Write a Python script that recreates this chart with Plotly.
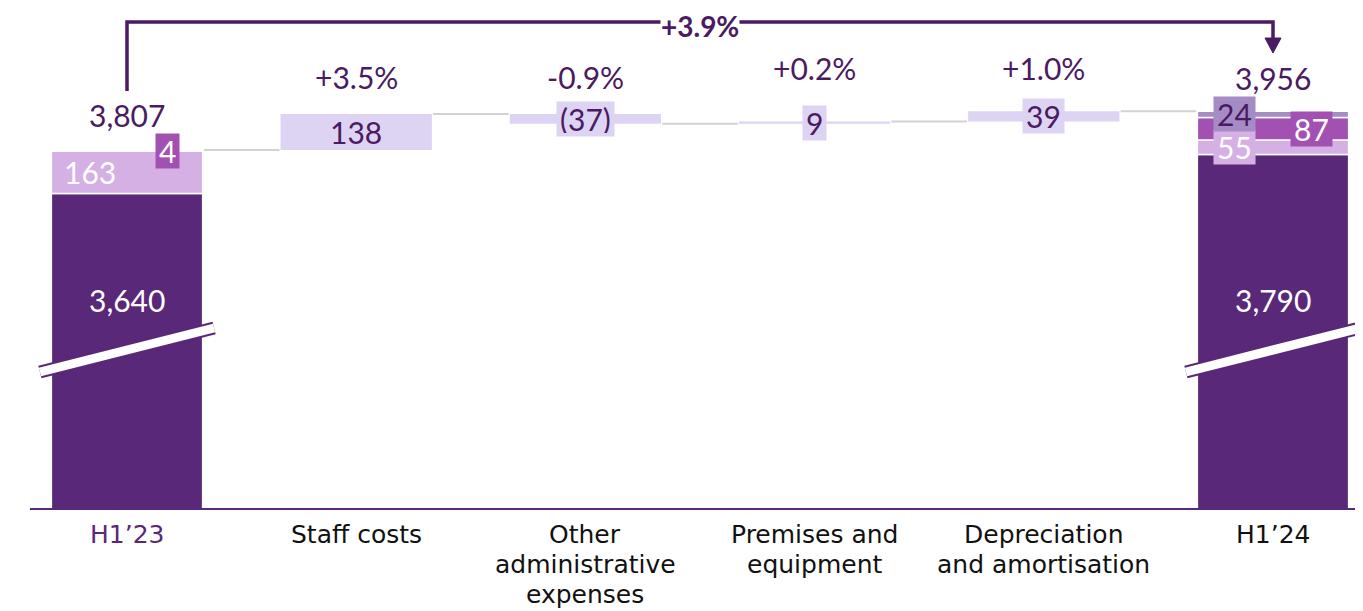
import plotly.graph_objects as go

# data
categories = ["H1’23", "Staff costs", "Other<br>administrative<br>expenses",
              "Premises and<br>equipment", "Depreciation<br>and amortisation", "H1’24"]
start_parts = [3640, 163, 4]
end_parts = [3790, 55, 87, 24]
changes = [138, -37, 9, 39]
change_labels = ["138", "(37)", "9", "39"]
change_pcts = ["+3.5%", "-0.9%", "+0.2%", "+1.0%"]
start_total = "3,807"
end_total = "3,956"
total_pct = "+3.9%"

DARK = "#5A2878"
LIGHT = "#D5B0E5"
MID = "#A350B3"
LAV = "#DDD3F2"
GREY = "#A68CC4"
TXT = "#4A1A62"
FONT = "Lato"
TICK_FONT = "DejaVu Sans"

start_colors = [DARK, LIGHT, MID]
end_colors = [DARK, LIGHT, MID, GREY]

# page has an 8px body margin, so the figure is drawn 8px smaller
OFF = 8
PLOT_BOTTOM = 508  # page px of x axis
PLOT_LEFT = 30


def py(p):
    # page pixel row -> paper y
    return (PLOT_BOTTOM - p) / (PLOT_BOTTOM - OFF)


W = 0.66
fig = go.Figure()

# stacked opening bar
base = 0
for v, c in zip(start_parts, start_colors):
    fig.add_trace(go.Bar(x=[0], y=[v], base=[base], width=W, marker_color=c,
                         marker_line_color="white", marker_line_width=1.5))
    base += v
start_sum = base

# floating change bars
levels = [start_sum]
for i, v in enumerate(changes):
    fig.add_trace(go.Bar(x=[i + 1], y=[v], base=[levels[-1]], width=W,
                         marker_color=LAV, marker_line_width=0))
    levels.append(levels[-1] + v)

# stacked closing bar
base = 0
end_bases = []
for v, c in zip(end_parts, end_colors):
    fig.add_trace(go.Bar(x=[5], y=[v], base=[base], width=W, marker_color=c,
                         marker_line_color="white", marker_line_width=1.5))
    end_bases.append(base)
    base += v
end_sum = base

shapes = []
# connectors
for i, lv in enumerate(levels):
    shapes.append(dict(type="line", xref="x", yref="y", x0=i + W / 2 + 0.005, x1=i + 1 - W / 2 - 0.005,
                       y0=lv, y1=lv, line=dict(color="#D2D2D2", width=2), layer="below"))

# axis breaks
for xc in [0, 5]:
    for col, wd in [(DARK, 13), ("white", 9)]:
        shapes.append(dict(type="line", xref="x", yref="paper", x0=xc - 0.38, x1=xc + 0.38,
                           y0=py(372), y1=py(328), line=dict(color=col, width=wd)))

# bracket
shapes.append(dict(type="path", xref="x", yref="paper",
                   path=f"M 0,{py(91)} L 0,{py(22)} L 5,{py(22)} L 5,{py(40)}",
                   line=dict(color=TXT, width=3.5)))
shapes.append(dict(type="path", xref="x", yref="paper",
                   path=f"M 4.965,{py(38)} L 5.035,{py(38)} L 5,{py(53)} Z",
                   fillcolor=TXT, line=dict(color=TXT, width=1)))

ann = []
fs = 30


def label(x, y, text, color, yref="y", bg=None, yshift=0, yanchor="middle", bold=False,
          size=fs, height=None, pad=0, family=FONT):
    if bold:
        text = "<b>" + text + "</b>"
    ann.append(dict(x=x, y=y, xref="x", yref=yref, text=text, showarrow=False,
                    font=dict(family=family, size=size, color=color), bgcolor=bg,
                    borderpad=pad, height=height, yshift=yshift, yanchor=yanchor))


def boxed(x, y, text, color, bg):
    label(x, y, text, color, bg=bg, height=28, pad=3)


# opening bar labels
label(0, start_sum, start_total, TXT, yanchor="bottom", yshift=16)
label(-0.16, start_parts[0] + start_parts[1] / 2, str(start_parts[1]), "white")
boxed(0.175, start_sum - start_parts[2] / 2, str(start_parts[2]), "white", MID)
label(0, py(300), f"{start_parts[0]:,}", "white", yref="paper")

# change labels
pct_y = [77, 77, 68, 68]
for i, v in enumerate(changes):
    mid = levels[i] + v / 2
    if abs(v) > 100:
        label(i + 1, mid, change_labels[i], TXT)
    else:
        boxed(i + 1, mid, change_labels[i], TXT, LAV)
    label(i + 1, py(pct_y[i]), change_pcts[i], TXT, yref="paper")

# closing bar labels
label(5, end_sum, end_total, TXT, yanchor="bottom", yshift=14)
label(5, py(300), f"{end_parts[0]:,}", "white", yref="paper")
offs = [None, -0.166, 0.166, -0.166]
cols = [None, "white", "white", TXT]
bgs = [None, LIGHT, MID, GREY]
for k in range(1, 4):
    boxed(5 + offs[k], end_bases[k] + end_parts[k] / 2, str(end_parts[k]), cols[k], bgs[k])

# total change
label(2.5, py(25.5), total_pct, TXT, yref="paper", bg="white", bold=True, size=28)

# category labels, one annotation per line for tighter line spacing
for i, cat in enumerate(categories):
    col = DARK if i == 0 else "#111111"
    for k, line in enumerate(cat.split("<br>")):
        label(i, py(534.5 + 30 * k), line, col, yref="paper", size=25, family=TICK_FONT)

fig.update_layout(
    width=1363 - OFF, height=611 - OFF,
    margin=dict(l=PLOT_LEFT - OFF, r=0, t=0, b=611 - PLOT_BOTTOM),
    paper_bgcolor="white", plot_bgcolor="white",
    showlegend=False, barmode="overlay",
    shapes=shapes, annotations=ann,
    font=dict(family=FONT, size=26, color="#111111"),
    xaxis=dict(range=[-(127 - PLOT_LEFT) / 229.2, 5 + 90 / 229.2], showticklabels=False,
               showgrid=False, zeroline=False, showline=True, linecolor=DARK, linewidth=2,
               ticks=""),
    yaxis=dict(range=[2430, 2430 + (PLOT_BOTTOM - OFF) / 0.26], visible=False,
               showgrid=False, zeroline=False),
)

fig.write_html("out.html")
